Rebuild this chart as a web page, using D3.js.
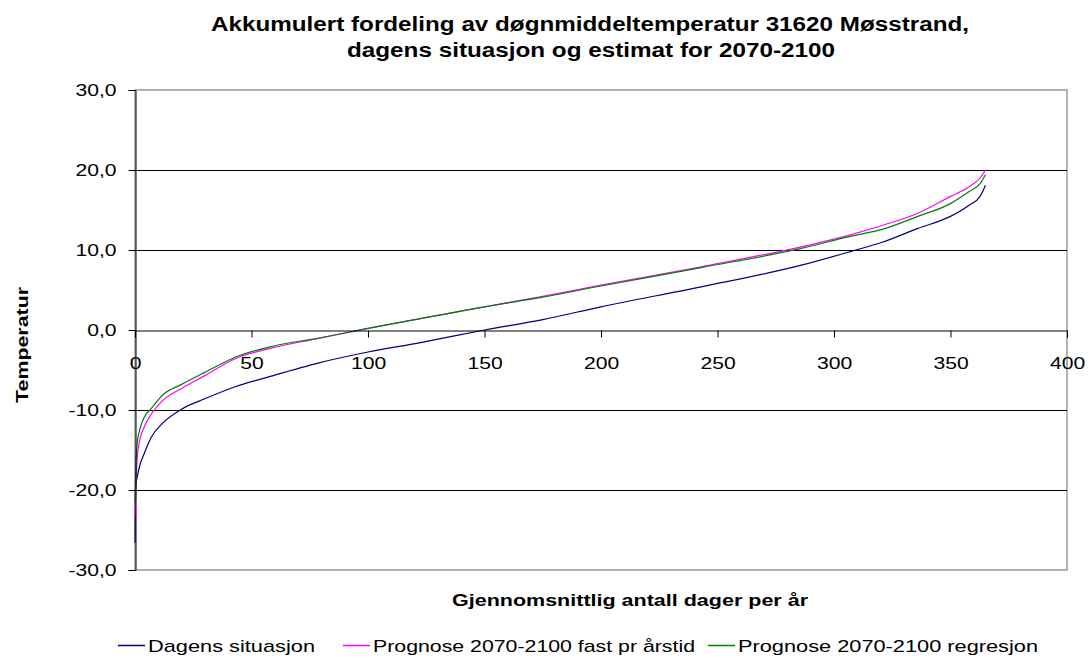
<!DOCTYPE html>
<html>
<head>
<meta charset="utf-8">
<script src="https://cdn.jsdelivr.net/npm/d3@7"></script>
<style>
body { margin: 0; background: #fff; }
text { font-family: "Liberation Sans", Arial, sans-serif; fill: #000; }
</style>
</head>
<body>
<div id="chart"></div>
<script>
// day rank (sorted cumulative distribution)
var days = [0, 0.3, 1, 2, 4, 7, 12, 20, 30, 43, 58, 79, 100, 122, 150, 175, 200, 243, 286, 307, 321, 336, 350, 358, 362.7, 365];
var dagens = [-26.6, -19.5, -18.3, -17.0, -15.4, -13.4, -11.6, -9.9, -8.6, -7.1, -5.8, -4.1, -2.75, -1.6, 0, 1.3, 2.9, 5.4, 8.1, 9.8, 11.0, 12.7, 14.2, 15.6, 16.7, 18.1];
var fastPrArstid = [-23.4, -20.4, -15.8, -13.8, -12.1, -10.5, -8.8, -7.3, -5.7, -3.6, -2.3, -1.05, 0.2, 1.4, 2.9, 4.2, 5.6, 7.9, 10.4, 11.9, 13.1, 14.6, 16.7, 17.9, 19.0, 20.0];
var regresjon = [-21.6, -17.5, -14.0, -12.5, -10.9, -9.8, -8.1, -6.8, -5.3, -3.4, -2.1, -1.0, 0.2, 1.4, 2.9, 4.1, 5.5, 7.8, 10.2, 11.7, 12.6, 14.2, 15.8, 17.3, 18.3, 19.4];

var seriesNames = ["Dagens situasjon", "Prognose 2070-2100 fast pr årstid", "Prognose 2070-2100 regresjon"];
var seriesColors = ["#000080", "#ff00ff", "#008000"];
var xTicks = [0, 50, 100, 150, 200, 250, 300, 350, 400];
var yTicks = [-30, -20, -10, 0, 10, 20, 30];
var gridValues = [-20, -10, 10, 20];

var svg = d3.select("#chart").append("svg")
    .attr("width", 1089)
    .attr("height", 660);

var x = d3.scaleLinear().domain([0, 400]).range([135, 1067]);
var y = d3.scaleLinear().domain([-30, 30]).range([570, 90]);

// stretch text horizontally, the original glyphs are wide
function stretch(sel, f) {
    sel.each(function() {
        var l = this.getComputedTextLength();
        d3.select(this).attr("textLength", l * f).attr("lengthAdjust", "spacingAndGlyphs");
    });
}

function fit(sel, w) {
    sel.attr("textLength", w).attr("lengthAdjust", "spacingAndGlyphs");
}

// plot area border
svg.append("rect")
    .attr("x", x(0)).attr("y", y(30))
    .attr("width", x(400) - x(0)).attr("height", y(-30) - y(30))
    .attr("fill", "none")
    .attr("stroke", "#9a9a9a")
    .attr("stroke-width", 1.5);

svg.selectAll(".grid").data(gridValues).enter().append("line")
    .attr("x1", x(0)).attr("x2", x(400))
    .attr("y1", d => Math.round(y(d)) + 0.5).attr("y2", d => Math.round(y(d)) + 0.5)
    .attr("stroke", "#000").attr("stroke-width", 1);

// series
var line = d3.line().x(d => x(d[0])).y(d => y(d[1])).curve(d3.curveMonotoneX);
var allSeries = [dagens, fastPrArstid, regresjon];
allSeries.forEach(function(vals, i) {
    svg.append("path")
        .datum(days.map((d, j) => [d, vals[j]]))
        .attr("d", line)
        .attr("fill", "none")
        .attr("stroke", seriesColors[i])
        .attr("stroke-width", 1.2);
});

var fmt = d => d3.format(".1f")(d).replace(".", ",").replace("−", "-");

// y axis
var yAxis = svg.append("g")
    .attr("transform", "translate(" + (x(0) + 0.5) + ",0)")
    .call(d3.axisLeft(y).tickValues(yTicks).tickSize(7).tickPadding(12).tickFormat(fmt));
yAxis.select(".domain").attr("stroke", "#000");
yAxis.selectAll(".tick line").attr("stroke", "#000");
yAxis.selectAll(".tick text")
    .attr("font-size", 16.5)
    .attr("font-family", "Liberation Sans, Arial, sans-serif")
    .call(stretch, 1.28);

// x axis through zero
var xAxis = svg.append("g")
    .attr("transform", "translate(0," + (y(0) + 0.5) + ")")
    .call(d3.axisBottom(x).tickValues(xTicks).tickSize(7).tickPadding(20));
xAxis.select(".domain").attr("stroke", "#000");
xAxis.selectAll(".tick line").attr("stroke", "#000");
xAxis.selectAll(".tick text")
    .attr("font-size", 16.5)
    .attr("font-family", "Liberation Sans, Arial, sans-serif")
    .call(stretch, 1.28);

// titles
svg.append("text")
    .attr("x", 590).attr("y", 31)
    .attr("text-anchor", "middle")
    .attr("font-size", 19.5).attr("font-weight", "bold")
    .text("Akkumulert fordeling av døgnmiddeltemperatur 31620 Møsstrand,")
    .call(fit, 758);
svg.append("text")
    .attr("x", 591).attr("y", 57)
    .attr("text-anchor", "middle")
    .attr("font-size", 19.5).attr("font-weight", "bold")
    .text("dagens situasjon og estimat for 2070-2100")
    .call(fit, 488);

svg.append("text")
    .attr("x", 630).attr("y", 606)
    .attr("text-anchor", "middle")
    .attr("font-size", 17).attr("font-weight", "bold")
    .text("Gjennomsnittlig antall dager per år")
    .call(fit, 356);

svg.append("text")
    .attr("transform", "translate(28,345) rotate(-90)")
    .attr("text-anchor", "middle")
    .attr("font-size", 17).attr("font-weight", "bold")
    .text("Temperatur")
    .call(fit, 116);

// legend
var legendX = [118, 343, 708];
var legendW = [167, 322, 300];
seriesNames.forEach(function(name, i) {
    svg.append("line")
        .attr("x1", legendX[i]).attr("x2", legendX[i] + 27)
        .attr("y1", 645.5).attr("y2", 645.5)
        .attr("stroke", seriesColors[i]).attr("stroke-width", 1.5);
    svg.append("text")
        .attr("x", legendX[i] + 30).attr("y", 652)
        .attr("font-size", 17)
        .text(name)
        .call(fit, legendW[i]);
});
</script>
</body>
</html>
